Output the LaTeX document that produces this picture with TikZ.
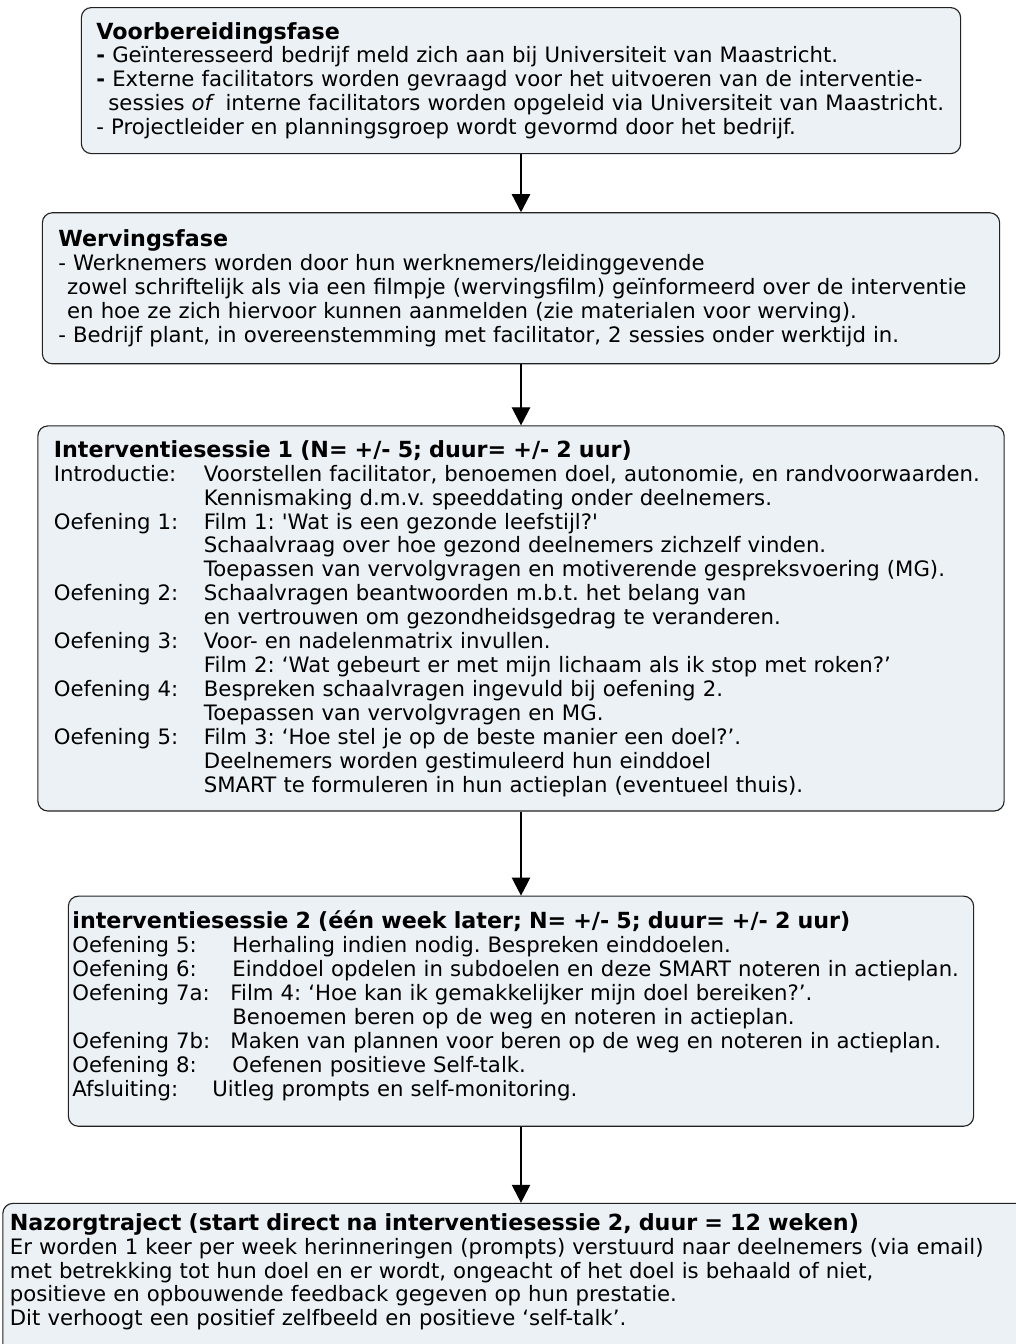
\documentclass[tikz,border=0pt]{standalone}
\usepackage{fontspec}
\setmainfont{DejaVu Sans}
\usetikzlibrary{arrows.meta, positioning}
\definecolor{mfill}{HTML}{EBF1F4}
\definecolor{mline}{HTML}{222222}
\tikzstyle{fase} = [rectangle, rounded corners=0.25cm, draw=mline, line width=0.8pt, fill=mfill, align=left, inner ysep=0pt, font=\fontsize{15.1}{17}\selectfont\frenchspacing]
\tikzstyle{flow} = [line width=0.8pt, ->, >={Triangle[length=0.45cm, width=0.46cm]}]
\newcommand{\regel}[3][3.75cm]{\makebox[#1][l]{#2}#3}
\newcommand{\titel}[1]{{\fontsize{15.8}{17}\selectfont\bfseries #1}}

\begin{document}
\begin{tikzpicture}[x=0.025cm, y=-0.025cm]
\useasboundingbox (0,0) rectangle (1016,1344);
\clip (0,0) rectangle (1016,1344);
\node (voor) [fase, anchor=north, text width=21.225cm, inner xsep=0.375cm, minimum height=3.65cm] at (521,7) {\titel{Voorbereidingsfase}\\
\textbf{-} Geïnteresseerd bedrijf meld zich aan bij Universiteit van Maastricht.\\
\textbf{-} Externe facilitators worden gevraagd voor het uitvoeren van de interventie-\\
\hspace*{0.3cm}sessies \textit{of}\, interne facilitators worden opgeleid via Universiteit van Maastricht.\\
- Projectleider en planningsgroep wordt gevormd door het bedrijf.};
\node (werv) [fase, below=1.45cm of voor, text width=23.125cm, inner xsep=0.4cm, minimum height=3.775cm] {\titel{Wervingsfase}\\
- Werknemers worden door hun werknemers/leidinggevende\\
\hspace*{0.22cm}zowel schriftelijk als via een filmpje (wervingsfilm) geïnformeerd over de interventie\\
\hspace*{0.22cm}en hoe ze zich hiervoor kunnen aanmelden (zie materialen voor werving).\\
- Bedrijf plant, in overeenstemming met facilitator, 2 sessies onder werktijd in.};
\node (sessie1) [fase, below=1.525cm of werv, text width=23.35cm, inner xsep=0.4cm, minimum height=9.625cm] {\titel{Interventiesessie 1 (N= +/- 5; duur= +/- 2 uur)}\\
\regel{Introductie:}{Voorstellen facilitator, benoemen doel, autonomie, en randvoorwaarden.}\\
\regel{}{Kennismaking d.m.v. speeddating onder deelnemers.}\\
\regel{Oefening 1:}{Film 1: \textquotesingle Wat is een gezonde leefstijl?\textquotesingle}\\
\regel{}{Schaalvraag over hoe gezond deelnemers zichzelf vinden.}\\
\regel{}{Toepassen van vervolgvragen en motiverende gespreksvoering (MG).}\\
\regel{Oefening 2:}{Schaalvragen beantwoorden m.b.t. het belang van}\\
\regel{}{en vertrouwen om gezondheidsgedrag te veranderen.}\\
\regel{Oefening 3:}{Voor- en nadelenmatrix invullen.}\\
\regel{}{Film 2: ‘Wat gebeurt er met mijn lichaam als ik stop met roken?’}\\
\regel{Oefening 4:}{Bespreken schaalvragen ingevuld bij oefening 2.}\\
\regel{}{Toepassen van vervolgvragen en MG.}\\
\regel{Oefening 5:}{Film 3: ‘Hoe stel je op de beste manier een doel?’.}\\
\regel{}{Deelnemers worden gestimuleerd hun einddoel}\\
\regel{}{SMART te formuleren in hun actieplan (eventueel thuis).}};
\node (sessie2) [fase, below=2.1cm of sessie1, text width=22.425cm, inner xsep=0.1cm, minimum height=5.75cm] {\titel{interventiesessie 2 (één week later; N= +/- 5; duur= +/- 2 uur)}\\
\regel[4cm]{Oefening 5:}{Herhaling indien nodig. Bespreken einddoelen.}\\
\regel[4cm]{Oefening 6:}{Einddoel opdelen in subdoelen en deze SMART noteren in actieplan.}\\
\regel[3.95cm]{Oefening 7a:}{Film 4: ‘Hoe kan ik gemakkelijker mijn doel bereiken?’.}\\
\regel[4cm]{}{Benoemen beren op de weg en noteren in actieplan.}\\
\regel[3.95cm]{Oefening 7b:}{Maken van plannen voor beren op de weg en noteren in actieplan.}\\
\regel[4cm]{Oefening 8:}{Oefenen positieve Self-talk.}\\
\regel[3.5cm]{Afsluiting:}{Uitleg prompts en self-monitoring.}\rule[-0.38cm]{0pt}{0.38cm}};
\node (nazorg) [fase, below=1.9cm of sessie2, text width=25.55cm, inner xsep=0.175cm, inner ysep=0.25cm] {\titel{Nazorgtraject (start direct na interventiesessie 2, duur = 12 weken)}\\
Er worden 1 keer per week herinneringen (prompts) verstuurd naar deelnemers (via email)\\
met betrekking tot hun doel en er wordt, ongeacht of het doel is behaald of niet,\\
positieve en opbouwende feedback gegeven op hun prestatie.\\
Dit verhoogt een positief zelfbeeld en positieve ‘self-talk’.\rule[-1.5cm]{0pt}{1.5cm}};
\draw [flow] (voor) -- (werv);
\draw [flow] (werv) -- (sessie1);
\draw [flow] (sessie1) -- (sessie2);
\draw [flow] (sessie2) -- (nazorg);
\end{tikzpicture}
\end{document}
